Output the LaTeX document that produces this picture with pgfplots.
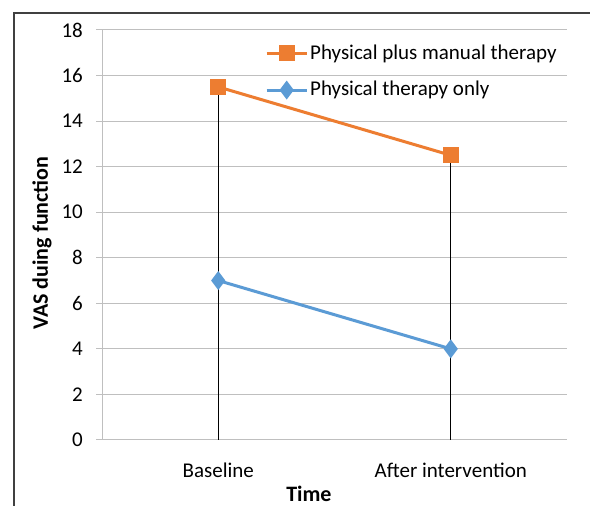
\documentclass[border=0pt]{standalone}
\usepackage{pgfplots}
\pgfplotsset{compat=1.18}
\usepackage{fontspec}
\setmainfont{Carlito}
\definecolor{xorange}{HTML}{ED7D31}
\definecolor{xblue}{HTML}{5B9BD5}
\definecolor{xgrid}{HTML}{BFBFBF}
\definecolor{xframe}{HTML}{404040}
\begin{document}
\fontsize{21bp}{25bp}\selectfont
\begin{tikzpicture}[x=1bp,y=1bp]
\useasboundingbox (0,0) rectangle (590,506);
\clip (0,0) rectangle (590,506);
\fill[white] (0,0) rectangle (590,506);
\draw[xframe, line width=1.3bp] (14,-5) -- (14,493) -- (600,493);
\begin{axis}[
  at={(102bp,66bp)}, anchor=south west,
  scale only axis, width=465bp, height=410bp,
  xmin=-0.5, xmax=1.5, ymin=0, ymax=18,
  ytick={0,2,...,18},
  xtick={0,1}, xticklabels={Baseline, After intervention},
  axis x line*=bottom, axis y line*=left,
  axis line style={xgrid, line width=1bp, -},
  ymajorgrids, grid style={xgrid, line width=1bp},
  ytick style={xgrid, line width=1bp}, tick align=outside, major tick length=6bp,
  xtick style={draw=none},
  /pgf/number format/assume math mode=true,
  tick label style={font=\fontsize{21bp}{25bp}\selectfont},
  yticklabel style={inner sep=0pt, xshift=-13bp},
  xticklabel style={inner sep=0pt, anchor=north, yshift=-17bp},
  xlabel={Time}, ylabel={VAS duing function},
  xlabel style={font=\bfseries\fontsize{22bp}{26bp}\selectfont, at={(axis description cs:0.445,-0.151)}, anchor=base, inner sep=0pt},
  ylabel style={font=\bfseries\fontsize{22bp}{26bp}\selectfont, at={(axis description cs:-0.129,0.48)}, anchor=center, rotate=0, inner sep=0pt},
  legend style={at={(axis description cs:0.3505,0.97)}, anchor=north west, draw=none, fill=none,
    font=\fontsize{21bp}{25bp}\selectfont, inner sep=0pt, row sep=15bp},
  legend cell align=left,
  legend image code/.code={\draw[mark repeat=2,mark phase=2,#1] plot coordinates {(0bp,0bp) (20bp,0bp) (40bp,0bp)};},
]
\addplot[ycomb, black, line width=0.8bp, mark=none, forget plot] coordinates {(0,15.5) (1,12.5)};
\addplot[xorange, line width=3bp, mark=square*, mark size=6.5bp, mark options={solid}] coordinates {(0,15.5) (1,12.5)};
\addlegendentry{Physical plus manual therapy}
\addplot[xblue, line width=3bp, mark=diamond*, mark size=7bp, mark options={solid}] coordinates {(0,7) (1,4)};
\addlegendentry{Physical therapy only}
\end{axis}
\end{tikzpicture}
\end{document}
